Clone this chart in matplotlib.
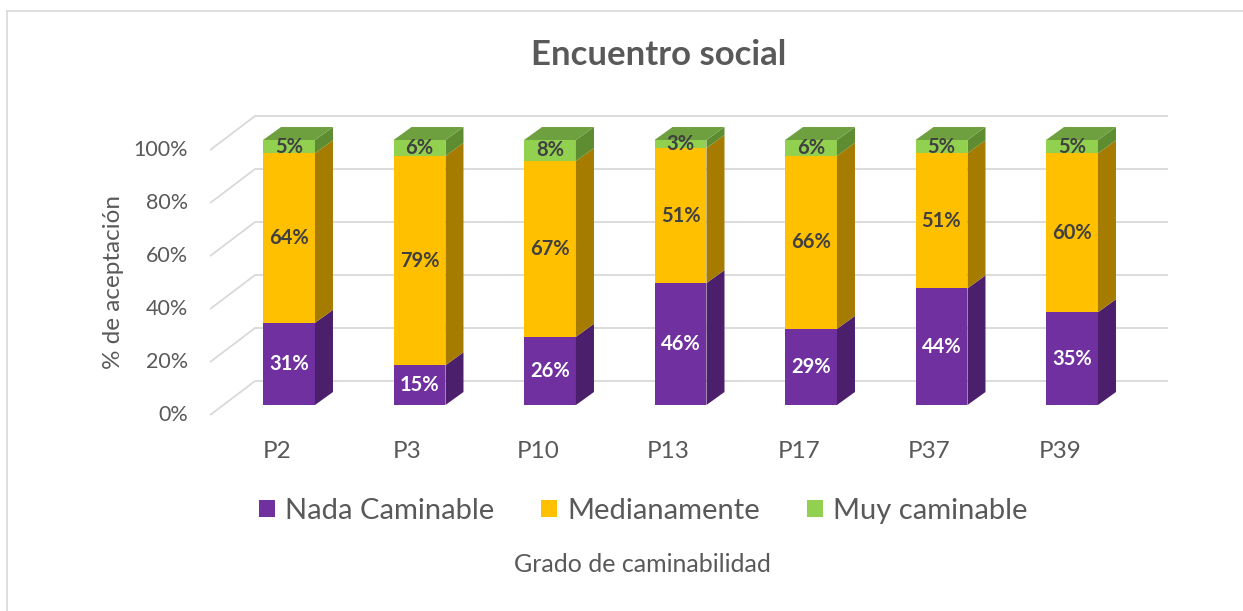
import numpy as np
import matplotlib
matplotlib.use('Agg')
import matplotlib.pyplot as plt
from matplotlib.patches import Polygon, Patch
from matplotlib.lines import Line2D

plt.rcParams['font.family'] = ['Lato', 'DejaVu Sans']

# Data
categories = ['P2', 'P3', 'P10', 'P13', 'P17', 'P37', 'P39']
nada = [31, 15, 26, 46, 29, 44, 35]
media = [64, 79, 67, 51, 66, 51, 60]
muy = [5, 6, 8, 3, 6, 5, 5]
series_names = ['Nada Caminable', 'Medianamente', 'Muy caminable']
yticks = [0, 20, 40, 60, 80, 100]

# Styles
front_cols = ['#7030A0', '#FFC000', '#92D050']
side_cols = ['#4B1F6B', '#A67C00', '#5E8C31']
top_col = '#6FA03F'
label_cols = ['white', '#404040', '#404040']
grey = '#595959'
grid_col = '#D9D9D9'

W, H = 1243, 611
fig = plt.figure(figsize=(W / 100, H / 100), dpi=100)

# pixel mapping of front plane: x_px = 289 + 130.5*x, y_px = 405 - 2.65*v
px0, py0, sx, sy = 289, 405, 130.5, 2.65
left_px, right_px, top_px, bot_px = 150, 1200, 90, 470
ax = fig.add_axes([left_px / W, 1 - bot_px / H, (right_px - left_px) / W, (bot_px - top_px) / H])
ax.set_xlim((left_px - px0) / sx, (right_px - px0) / sx)
ax.set_ylim((py0 - bot_px) / sy, (py0 - top_px) / sy)
ax.axis('off')

# walls / gridlines
wall_dx = 0.345
front_left = -0.605
back_right = 6.736
for v in yticks:
    yf = v - 3.8
    yb = v + 9.06
    ax.plot([front_left, front_left + wall_dx, back_right], [yf, yb, yb],
            color=grid_col, lw=1.3, zorder=1, solid_capstyle='butt')
    ax.text(front_left - 0.17, yf, f'{v}%', ha='right', va='center',
            fontsize=15.5, color=grey)

# bars
x = np.arange(len(categories))
data = np.array([nada, media, muy], dtype=float)
pct = data / data.sum(axis=0) * 100
hw = 0.199
ddx, ddy = 0.138, 4.9
bottoms = np.zeros(len(categories))
for s in range(3):
    ax.bar(x, pct[s], bottom=bottoms, width=2 * hw, color=front_cols[s],
           edgecolor='none', zorder=3)
    for i in range(len(categories)):
        y0 = bottoms[i]
        y1 = bottoms[i] + pct[s][i]
        xr = x[i] + hw
        ax.add_patch(Polygon([(xr, y0), (xr + ddx, y0 + ddy), (xr + ddx, y1 + ddy), (xr, y1)],
                             closed=True, facecolor=side_cols[s], edgecolor='none', zorder=3))
        if s == 2:
            xl = x[i] - hw
            ax.add_patch(Polygon([(xl, y1), (xr, y1), (xr + ddx, y1 + ddy), (xl + ddx, y1 + ddy)],
                                 closed=True, facecolor=top_col, edgecolor='none', zorder=3))
        ax.text(x[i], (y0 + y1) / 2, f'{int(data[s][i])}%', ha='center', va='center',
                fontsize=14.5, fontweight='bold', color=label_cols[s], zorder=5)
    bottoms = bottoms + pct[s]

# category labels
for i, c in enumerate(categories):
    ax.text(x[i] - 0.092, (py0 - 452) / sy, c, ha='center', va='center',
            fontsize=17.5, color=grey)

# title and axis labels
fig.text(659 / W, 1 - 55 / H, 'Encuentro social', ha='center', va='center',
         fontsize=25, fontweight='bold', color=grey)
fig.text(113 / W, 1 - 282 / H, '% de aceptación', ha='center', va='center',
         rotation=90, fontsize=17.5, color=grey)
fig.text(642 / W, 1 - 565 / H, 'Grado de caminabilidad', ha='center', va='center',
         fontsize=18, color=grey)

handles = [Patch(facecolor=c, edgecolor='none') for c in front_cols]
fig.legend(handles, series_names, loc='center', bbox_to_anchor=(643 / W, 1 - 511 / H),
           ncol=3, frameon=False, fontsize=21, labelcolor=grey,
           handlelength=0.55, handleheight=0.55, handletextpad=0.35, columnspacing=1.6)

# chart border (top and left visible)
fig.add_artist(Line2D([7 / W, 7 / W], [0, 1 - 11 / H], transform=fig.transFigure,
                      color=grid_col, lw=1.2))
fig.add_artist(Line2D([7 / W, 1], [1 - 11 / H, 1 - 11 / H], transform=fig.transFigure,
                      color=grid_col, lw=1.2))

fig.savefig('out.png', dpi=100)
